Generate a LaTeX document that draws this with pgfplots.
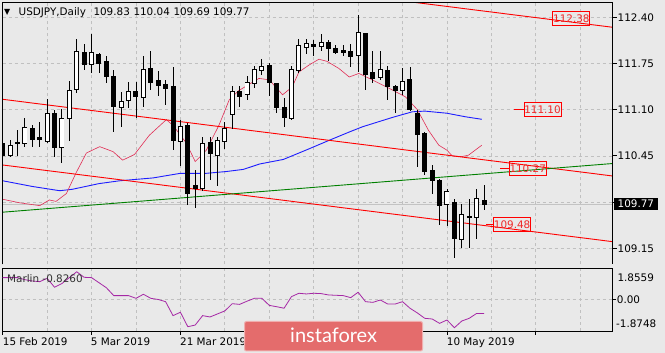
\documentclass[border=0pt]{standalone}
\usepackage{pgfplots}
\pgfplotsset{compat=1.18}
\usepackage{pgfplotstable}
\usepackage{fontspec}
\setmainfont{DejaVu Sans}
\newfontfamily\logofont{Lato}
\definecolor{bgc}{RGB}{233,233,233}
\definecolor{gridc}{RGB}{192,192,192}
\definecolor{mablue}{RGB}{30,30,255}
\definecolor{mapink}{RGB}{225,45,85}
\definecolor{chred}{RGB}{255,0,0}
\definecolor{tlgreen}{RGB}{0,128,0}
\definecolor{marlinc}{RGB}{165,40,165}
\definecolor{logoc}{RGB}{228,108,108}
\definecolor{lblred}{RGB}{240,40,40}
\definecolor{bidc}{RGB}{195,195,195}
\newcommand\mtf{\fontsize{10.4bp}{12bp}\selectfont}

\pgfplotstableread{
i O H L C
0 110.62 110.68 110.28 110.45
1 110.45 110.67 110.43 110.60
2 110.64 110.82 110.45 110.62
3 110.63 110.98 110.58 110.85
4 110.84 110.88 110.57 110.68
5 110.71 110.92 110.57 110.68
6 110.66 111.25 110.63 111.05
7 111.04 111.10 110.44 110.57
8 110.57 111.11 110.35 110.98
9 110.98 111.51 110.66 111.37
10 111.38 112.09 111.33 111.92
11 111.91 112.03 111.66 111.73
12 111.73 112.16 111.62 111.90
13 111.88 111.90 111.62 111.75
14 111.78 111.86 111.48 111.56
15 111.57 111.66 110.79 111.15
16 111.13 111.35 110.86 111.22
17 111.23 111.49 111.12 111.35
18 111.35 111.49 110.99 111.28
19 111.27 111.85 111.14 111.67
20 111.68 111.92 111.38 111.48
21 111.51 111.65 111.29 111.44
22 111.46 111.52 111.17 111.40
23 111.42 111.70 110.53 110.66
24 110.65 110.95 110.31 110.86
25 110.88 110.91 109.76 109.92
26 110.04 110.25 109.71 109.99
27 109.99 110.72 109.95 110.63
28 110.64 110.72 110.11 110.48
29 110.46 110.72 110.03 110.67
30 110.65 110.93 110.54 110.84
31 111.03 111.44 110.83 111.35
32 111.35 111.44 111.14 111.29
33 111.32 111.57 111.24 111.48
34 111.47 111.72 111.40 111.66
35 111.65 111.82 111.59 111.71
36 111.72 111.76 111.29 111.48
37 111.47 111.48 111.05 111.13
38 111.13 111.27 110.86 110.99
39 110.98 111.71 110.95 111.66
40 111.65 112.10 111.61 112.01
41 111.98 112.10 111.89 112.03
42 112.02 112.08 111.86 111.99
43 111.99 112.17 111.92 112.04
44 112.04 112.08 111.79 111.96
45 111.96 112.01 111.88 111.90
46 111.93 112.01 111.85 111.91
47 111.92 112.03 111.70 111.85
48 111.86 112.43 111.63 112.19
49 112.17 112.17 111.38 111.60
50 111.62 111.92 111.47 111.54
51 111.56 111.92 111.52 111.66
52 111.65 111.71 111.24 111.43
53 111.43 111.45 111.05 111.37
54 111.37 111.68 111.31 111.50
55 111.52 111.70 111.08 111.10
56 111.05 111.10 110.29 110.75
57 110.76 110.78 110.18 110.23
58 110.25 110.32 109.92 110.10
59 110.10 110.13 109.48 109.76
60 109.77 109.99 109.46 109.95
61 109.79 109.85 109.01 109.29
62 109.28 109.78 109.15 109.62
63 109.60 109.84 109.15 109.58
64 109.59 109.98 109.28 109.85
65 109.83 110.04 109.69 109.77
}\candles

\pgfplotstableread{
i p
0 110.10
4 110.02
7.7 109.96
9.4 109.98
13 110.06
15.8 110.10
20.3 110.14
24 110.205
27.5 110.205
30.2 110.23
32.5 110.26
34.7 110.336
37.9 110.40
41 110.533
44.2 110.674
46.9 110.79
48.6 110.86
52.6 110.99
55.3 111.07
57 111.08
60 111.05
62.5 111.00
64.7 110.965
}\tblblue

\pgfplotstableread{
i p
0 109.84
2.3 109.79
5 109.75
6.3 109.83
7.2 109.81
8.6 109.92
9.9 110.21
11.3 110.49
13.1 110.58
14.9 110.51
16.2 110.39
17.8 110.47
19.8 110.74
22.1 110.96
23 110.88
24.8 110.63
26 110.37
27.5 110.53
29.2 110.88
30.6 111.24
31.9 111.37
34.6 111.54
36 111.52
37.8 111.31
39.1 111.42
40 111.63
41.4 111.73
42.7 111.81
43.8 111.78
45.4 111.68
46.8 111.56
48.1 111.61
49.9 111.52
52.2 111.40
54.4 111.28
56 111.10
57.5 110.81
58.9 110.60
60 110.53
60.7 110.45
62 110.44
62.9 110.46
64.7 110.60
}\tblpink

\pgfplotstableread{
i v
0 1.30
1 1.30
2 1.30
3 1.18
4 1.10
5 1.06
6 1.26
7 0.73
8 0.95
9 1.30
10 1.65
11 1.32
12 1.30
13 1.00
14 0.70
15 0.23
16 0.23
17 0.23
18 0.07
19 0.31
20 0.07
21 0.00
22 -0.13
23 -0.96
24 -0.76
25 -1.62
26 -1.52
27 -0.96
28 -1.04
29 -0.86
30 -0.68
31 -0.25
32 -0.29
33 -0.10
34 0.07
35 0.07
36 -0.35
37 -0.43
38 -0.52
39 0.17
40 0.37
41 0.33
42 0.37
43 0.35
44 0.27
45 0.25
46 0.23
47 0.11
48 0.43
49 -0.13
50 -0.17
51 -0.03
52 -0.27
53 -0.27
54 -0.13
55 -0.52
56 -0.80
57 -1.12
58 -1.16
59 -1.42
60 -1.22
61 -1.68
62 -1.28
63 -1.12
64 -0.83
65 -0.83
}\tblmarlin

\begin{document}
\begin{tikzpicture}
\fill[bgc] (0,0) rectangle (665bp,353bp);
\path[use as bounding box] (0,0) rectangle (665bp,353bp);

% ---------------- main panel ----------------
\begin{axis}[
  at={(2.7bp,88.7bp)}, anchor=south west, scale only axis,
  width=610bp, height=261.6bp,
  xmin=0, xmax=82.38, ymin=108.925, ymax=112.605,
  axis line style={draw=none},
  xtick={0,12,...,72}, minor xtick={6,18,...,78},
  xmajorgrids, xminorgrids, ymajorgrids,
  major grid style={gridc, dash pattern=on 3bp off 3bp, line width=0.7bp},
  minor grid style={gridc, dash pattern=on 3bp off 3bp, line width=0.7bp},
  xticklabels={}, xtick style={draw=none}, minor tick length=0pt,
  ytick={109.15,109.80,110.45,111.10,111.75,112.40},
  yticklabels={}, ytick pos=right, tick align=outside,
  major tick length=4bp, ytick style={black, line width=0.8bp},
]
% bid line
\addplot[bidc, line width=0.8bp] coordinates {(0,109.77) (82.4,109.77)};
% moving averages
\addplot[mablue, line width=0.9bp] table[x=i, y=p] {\tblblue};
\addplot[mapink, line width=0.6bp] table[x=i, y=p] {\tblpink};
% trend lines
\addplot[chred, line width=0.9bp] coordinates {(0,113.338) (82.4,112.259)};
\addplot[chred, line width=0.9bp] coordinates {(0,111.246) (82.4,110.167)};
\addplot[chred, line width=0.9bp] coordinates {(0,110.322) (82.4,109.243)};
\addplot[tlgreen, line width=0.9bp] coordinates {(0,109.658) (82.4,110.343)};
% price label stubs
\addplot[chred, line width=0.9bp] coordinates {(69.1,111.10) (70.4,111.10)};
\addplot[chred, line width=0.9bp] coordinates {(67.2,110.27) (68.4,110.27)};
\addplot[chred, line width=0.9bp] coordinates {(65.3,109.48) (66.4,109.48)};
% candles: wicks
\addplot[draw=none, forget plot, error bars/.cd, y dir=both, y explicit, error mark=none,
  error bar style={draw=black, line width=0.9bp}]
  table[x=i, y=O, y error plus expr={\thisrow{H}-\thisrow{O}}, y error minus expr={\thisrow{O}-\thisrow{L}}] {\candles};
% candles: bodies (outline / black)
\addplot[draw=none, forget plot, error bars/.cd, y dir=both, y explicit, error mark=none,
  error bar style={draw=black, line width=5bp, line cap=butt}]
  table[x=i, y expr={(\thisrow{O}+\thisrow{C})/2}, y error expr={abs(\thisrow{C}-\thisrow{O})/2+0.007}] {\candles};
% candles: white interiors
\addplot[draw=none, forget plot, restrict expr to domain={\thisrow{C}-\thisrow{O}}{0.001:10},
  error bars/.cd, y dir=both, y explicit, error mark=none,
  error bar style={draw=white, line width=3.2bp, line cap=butt}]
  table[x=i, y expr={(\thisrow{O}+\thisrow{C})/2}, y error expr={max((\thisrow{C}-\thisrow{O})/2-0.007,0)}] {\candles};
% price labels
\node[draw=chred, line width=0.8bp, text=lblred, font=\mtf, inner sep=0pt, minimum width=37bp, minimum height=14bp] at (axis cs:76.8,112.38) {112.38};
\node[draw=chred, line width=0.8bp, text=lblred, font=\mtf, inner sep=0pt, minimum width=37bp, minimum height=14bp] at (axis cs:72.9,111.10) {111.10};
\node[draw=chred, line width=0.8bp, text=lblred, font=\mtf, inner sep=0pt, minimum width=37bp, minimum height=14bp] at (axis cs:70.9,110.27) {110.27};
\node[draw=chred, line width=0.8bp, text=lblred, font=\mtf, inner sep=0pt, minimum width=37bp, minimum height=14bp] at (axis cs:68.8,109.48) {109.48};
\end{axis}
% main frame (top, left, right)
\draw[black, line width=0.9bp] (2.7bp,88.7bp) -- (2.7bp,350.3bp) -- (612.7bp,350.3bp) -- (612.7bp,88.7bp);

% ---------------- Marlin panel ----------------
\begin{axis}[
  at={(2.7bp,22bp)}, anchor=south west, scale only axis,
  width=610bp, height=62.7bp,
  xmin=0, xmax=82.38, ymin=-1.8748, ymax=1.8559,
  axis line style={black, line width=0.9bp},
  xtick={0,12,...,72}, minor xtick={6,18,...,78},
  xmajorgrids, xminorgrids, ymajorgrids,
  major grid style={gridc, dash pattern=on 3bp off 3bp, line width=0.7bp},
  minor grid style={gridc, dash pattern=on 3bp off 3bp, line width=0.7bp},
  xticklabels={}, xtick pos=bottom, tick align=outside,
  major tick length=3.5bp, minor tick length=0pt,
  xtick style={black, line width=0.8bp},
  ytick={0}, yticklabels={}, ytick pos=right,
  ytick style={black, line width=0.8bp},
]
\addplot[marlinc, line width=0.8bp] table[x=i, y=v] {\tblmarlin};
\end{axis}

% ---------------- texts ----------------
\node[anchor=base west, inner sep=0pt, font=\fontsize{8bp}{8bp}\selectfont] at (4bp,338bp) {▼};
\node[anchor=base west, inner sep=0pt, font=\mtf] at (18.5bp,337bp) {USDJPY,Daily};
\node[anchor=base west, inner sep=0pt, font=\mtf] at (93.3bp,337bp) {109.83};
\node[anchor=base west, inner sep=0pt, font=\mtf] at (133.3bp,337bp) {110.04};
\node[anchor=base west, inner sep=0pt, font=\mtf] at (173.3bp,337bp) {109.69};
\node[anchor=base west, inner sep=0pt, font=\mtf] at (213bp,337bp) {109.77};

\node[anchor=west, inner sep=0pt, font=\mtf] at (617.5bp,335.7bp) {112.40};
\node[anchor=west, inner sep=0pt, font=\mtf] at (617.5bp,289.5bp) {111.75};
\node[anchor=west, inner sep=0pt, font=\mtf] at (617.5bp,243.3bp) {111.10};
\node[anchor=west, inner sep=0pt, font=\mtf] at (617.5bp,197.1bp) {110.45};
\node[anchor=west, inner sep=0pt, font=\mtf] at (617.5bp,104.7bp) {109.15};
\node[anchor=west, fill=black, text=white, inner xsep=4.2bp, inner ysep=0pt, minimum height=12bp, font=\mtf] at (613.3bp,149.2bp) {109.77};

\node[anchor=west, inner sep=0pt, font=\mtf] at (617.3bp,75.7bp) {1.8559};
\node[anchor=west, inner sep=0pt, font=\mtf] at (616.7bp,53.7bp) {0.00};
\node[anchor=west, inner sep=0pt, font=\mtf] at (616bp,29bp) {-1.8748};
\node[anchor=base west, inner sep=0pt, font=\mtf, text={black!80}] at (7bp,70bp) {Marlin -0.8260};

\node[anchor=base west, inner sep=0pt, font=\mtf] at (2.7bp,7.3bp) {15 Feb 2019};
\node[anchor=base west, inner sep=0pt, font=\mtf] at (90.7bp,7.3bp) {5 Mar 2019};
\node[anchor=base west, inner sep=0pt, font=\mtf] at (180bp,7.3bp) {21 Mar 2019};
\node[anchor=base west, inner sep=0pt, font=\mtf] at (446.7bp,7.3bp) {10 May 2019};

% logo
\filldraw[fill=logoc, draw=logoc!55!white, line width=1bp, rounded corners=2bp] (244.5bp,2bp) rectangle (422.5bp,31.5bp);
\node[anchor=base west, inner sep=0pt, text=white, font=\logofont\fontsize{20bp}{20bp}\selectfont] at (290bp,10.3bp) {instaforex};
\end{tikzpicture}
\end{document}
